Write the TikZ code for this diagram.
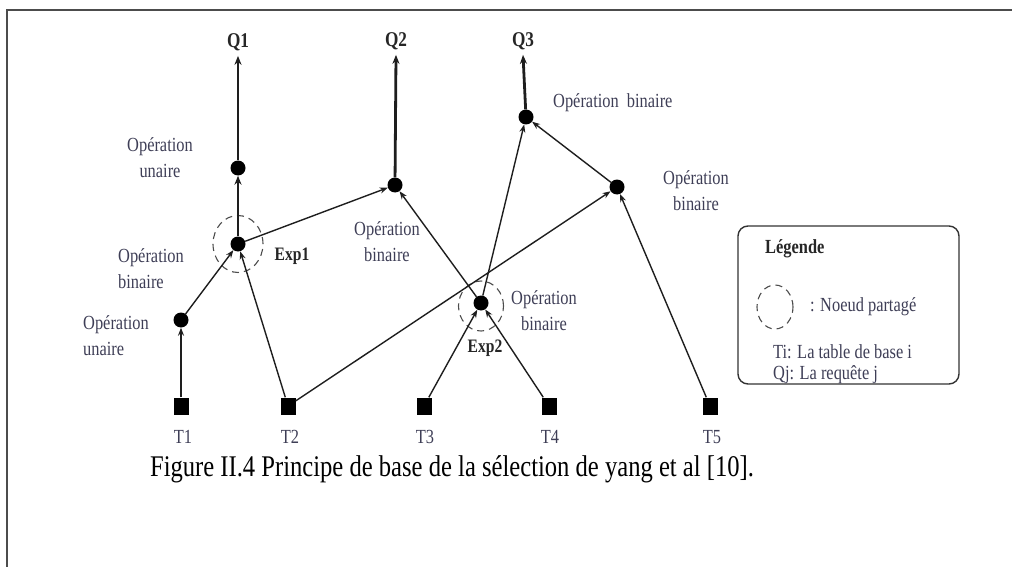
\documentclass[tikz,border=0pt]{standalone}
\usepackage{fontspec}
\setmainfont{Liberation Serif}[FakeStretch=0.82]
\usetikzlibrary{arrows.meta,shapes.geometric}
\definecolor{lbl}{RGB}{62,62,86}
\definecolor{ln}{RGB}{30,30,30}
\begin{document}
\begin{tikzpicture}[x=1pt,y=-1pt,
  op/.style={circle,fill=black,inner sep=0pt,minimum size=15pt},
  tbl/.style={rectangle,fill=black,inner sep=0pt,minimum width=15pt,minimum height=17pt},
  shared/.style={ellipse,draw=black!70,line width=1.1pt,dash pattern=on 7pt off 5pt,inner sep=0pt},
  lab/.style={text=lbl,font=\fontsize{20}{26}\selectfont,inner sep=0pt},
  boldlab/.style={text=black!85,font=\fontsize{19}{22}\selectfont\bfseries,inner sep=0pt},
  qlab/.style={boldlab,font=\fontsize{21}{24}\selectfont\bfseries,inner sep=5pt},
  edge/.style={-{Stealth[length=8pt,width=6pt]},line width=1.4pt,draw=ln},
  trunk/.style={edge,line width=2.8pt,-{Stealth[length=9pt,width=7pt]}}
]
\useasboundingbox (0,0) rectangle (1012,567);
% page frame
\draw[black!70,line width=2.4pt] (7,567) -- (7,10) -- (1012,10);

% base tables
\node[tbl] (t1) at (181,406) {};
\node[tbl] (t2) at (288,406) {};
\node[tbl] (t3) at (424,406) {};
\node[tbl] (t4) at (549,406) {};
\node[tbl] (t5) at (710,406) {};
\node[lab] (lt1) at (183,437) {T1};
\node[lab] (lt2) at (290,437) {T2};
\node[lab] (lt3) at (425,437) {T3};
\node[lab] (lt4) at (550,437) {T4};
\node[lab] (lt5) at (712,437) {T5};

% operation nodes
\node[op] (u2) at (181,320) {};
\node[op] (e1) at (238,244) {};
\node[op] (u1) at (238,168) {};
\node[op] (b2) at (395,185) {};
\node[op] (e2) at (481,303) {};
\node[op] (b4) at (617,187) {};
\node[op] (b3) at (526,117) {};

% shared sub-expressions
\node[shared,minimum width=50pt,minimum height=57pt] (s1) at (238,244) {};
\node[shared,minimum width=45pt,minimum height=50pt] (s2) at (481,306) {};

% queries
\node[qlab] (q1) at (238,42) {Q1};
\node[qlab] (q2) at (396,41) {Q2};
\node[qlab] (q3) at (523,41) {Q3};

% connectors
\draw[edge] (t1) -- (u2);
\draw[edge] (u2) -- (e1);
\draw[edge] (t2) -- (e1);
\draw[trunk] (e1) -- (u1);
\draw[trunk] (u1) -- (q1.south);
\draw[edge] (e1) -- (b2);
\draw[edge] (e2) -- (b2);
\draw[trunk] (b2) -- (q2.south);
\draw[edge] (t2) -- (b4);
\draw[edge] (t3) -- (e2);
\draw[edge] (t4) -- (e2);
\draw[edge] (e2) -- (b3);
\draw[edge] (b4) -- (b3);
\draw[edge] (t5) -- (b4);
\draw[trunk] (b3) -- (q3.south);

% labels
\node[lab,align=center] (l1) at (160,158) {Opération\\unaire};
\node[lab,align=left,anchor=west] (l2) at (118,269) {Opération\\binaire};
\node[lab,align=left,anchor=west] (l3) at (83,336) {Opération\\unaire};
\node[lab,align=center] (l4) at (387,242) {Opération\\binaire};
\node[lab,anchor=west] (l5) at (553,103) {Opération\ \ binaire};
\node[lab,align=center] (l6) at (696,191) {Opération\\binaire};
\node[lab,align=center] (l7) at (544,311) {Opération\\binaire};
\node[boldlab] (x1) at (292,256) {Exp1};
\node[boldlab] (x2) at (485,348) {Exp2};

% legend
\node[draw=black!80,line width=1.4pt,rounded corners=10pt,minimum width=221pt,minimum height=158pt,inner sep=0pt] (leg) at (848.5,305) {};
\node[boldlab,anchor=west,font=\fontsize{20}{22}\selectfont\bfseries] (legt) at (765,249) {Légende};
\node[shared,minimum width=36pt,minimum height=44pt] (legc) at (775,307) {};
\node[lab,anchor=west] (legs) at (810,307) {: Noeud partagé};
\node[lab,anchor=west] (legti) at (773,352) {Ti: La table de base i};
\node[lab,anchor=west] (legqj) at (773,375) {Qj: La requête j};

% caption
\node[text=black,font=\fontsize{30}{34}\selectfont,inner sep=0pt] (cap) at (452,469) {Figure II.4 Principe de base de la sélection de yang et al [10].};
\end{tikzpicture}
\end{document}
